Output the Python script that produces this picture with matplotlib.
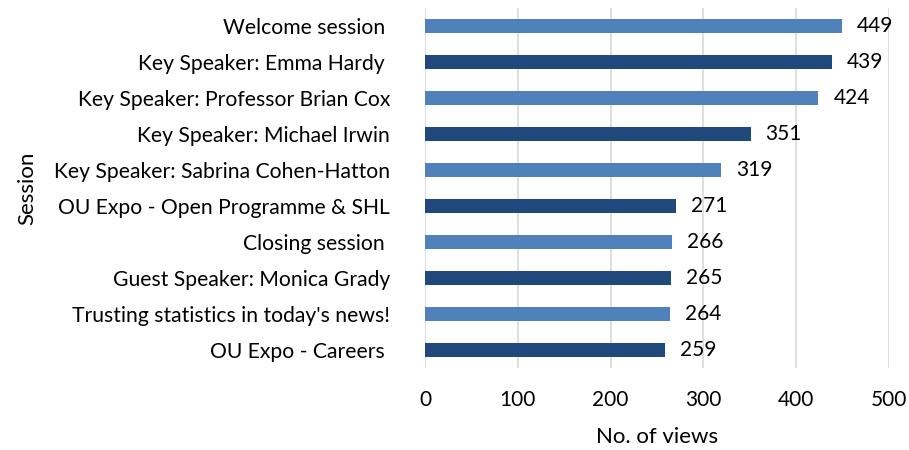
import matplotlib
matplotlib.use("Agg")
import matplotlib.pyplot as plt

sessions = ["Welcome session ", "Key Speaker: Emma Hardy ", "Key Speaker: Professor Brian Cox",
            "Key Speaker: Michael Irwin", "Key Speaker: Sabrina Cohen-Hatton",
            "OU Expo - Open Programme & SHL", "Closing session ", "Guest Speaker: Monica Grady",
            "Trusting statistics in today's news!", "OU Expo - Careers "]
views = [449, 439, 424, 351, 319, 271, 266, 265, 264, 259]
xticks = [0, 100, 200, 300, 400, 500]

plt.rcParams['font.family'] = ['Lato', 'DejaVu Sans']
fig = plt.figure(figsize=(9.09, 4.5), dpi=100)
ax = fig.add_axes([0.4675, 0.182, 0.978 - 0.4675, 0.8])

colors = ['#4F81BD' if i % 2 == 0 else '#1F497D' for i in range(len(views))]
pos = list(range(len(views)))
ax.barh(pos, views, height=0.37, color=colors, zorder=3)
for p, v in zip(pos, views):
    ax.text(v + 16, p, str(v), va='center', ha='left', fontsize=15, color='black')

ax.set_ylim(len(views) - 0.5, -0.5)
ax.set_xlim(0, 500)
ax.set_yticks(pos)
ax.set_yticklabels(sessions, fontsize=15.2)
ax.set_xticks(xticks)
ax.set_xticklabels([str(t) for t in xticks], fontsize=15)
ax.tick_params(length=0)
ax.tick_params(axis='x', pad=16)
ax.tick_params(axis='y', pad=25)
for s in ax.spines.values():
    s.set_visible(False)
ax.grid(axis='x', color='#D9D9D9', linewidth=1.2, zorder=0)
ax.set_xlabel("No. of views", fontsize=16, labelpad=12)
ax.set_ylabel("Session", fontsize=16, labelpad=12)
fig.savefig("out.png", dpi=100)
